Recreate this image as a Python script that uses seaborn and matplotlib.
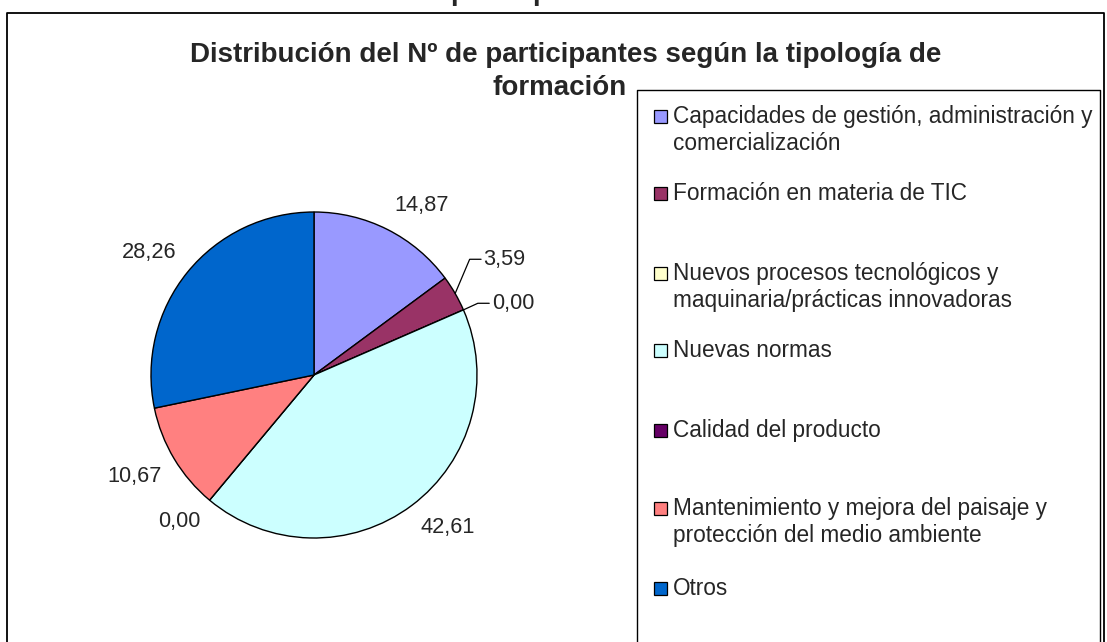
import matplotlib
matplotlib.use("Agg")
import matplotlib.pyplot as plt
import seaborn as sns
import numpy as np
from matplotlib.patches import Rectangle

# datos del gráfico
categories = [
    "Capacidades de gestión, administración y\ncomercialización",
    "Formación en materia de TIC",
    "Nuevos procesos tecnológicos y\nmaquinaria/prácticas innovadoras",
    "Nuevas normas",
    "Calidad del producto",
    "Mantenimiento y mejora del paisaje y\nprotección del medio ambiente",
    "Otros",
]
values = [14.87, 3.59, 0.00, 42.61, 0.00, 10.67, 28.26]
colors = ["#9999FF", "#993366", "#FFFFCC", "#CCFFFF", "#660066", "#FF8080", "#0066CC"]
title_lines = ["Distribución del Nº de participantes según la tipología de", "formación"]
top_text = "participantes"

sns.set_theme(style="white")
plt.rcParams["font.family"] = ["Liberation Sans", "DejaVu Sans"]

W, H = 1107, 642
fig = plt.figure(figsize=(W / 100, H / 100), dpi=100)
fig.patch.set_facecolor("white")

# capa de fondo en pixeles (y hacia abajo)
bg = fig.add_axes([0, 0, 1, 1])
bg.set_xlim(0, W)
bg.set_ylim(H, 0)
bg.axis("off")

# marco exterior y caja de leyenda
bg.plot([7, 7, 1104, 1104], [H + 5, 13, 13, H + 5], color="black", lw=1.3, clip_on=False)
bg.plot([637, 637, 1100, 1100], [H + 5, 90, 90, H + 5], color="black", lw=1.0, clip_on=False)

# texto cortado arriba (titulo de la pagina, fuera del recorte)
bg.text(450, 0, top_text, fontsize=20, fontweight="bold", ha="left", va="baseline")

# titulo
bg.text(566, 62, title_lines[0], fontsize=20, fontweight="bold", ha="center", va="baseline")
bg.text(560, 95, title_lines[1], fontsize=20, fontweight="bold", ha="center", va="baseline")

# leyenda manual (posiciones tipo Excel)
legend_base = [123, 200, 280, 357, 437, 515, 595]
for lab, col, yb in zip(categories, colors, legend_base):
    bg.add_patch(Rectangle((654, yb - 13), 13, 13, facecolor=col, edgecolor="black", lw=0.9))
    for k, line in enumerate(lab.split("\n")):
        bg.text(673, yb + 27 * k, line, fontsize=16.3, ha="left", va="baseline")

# tarta
cx, cy, r, lim = 314, 375, 163, 1.6
half = lim * r
ax = fig.add_axes([(cx - half) / W, (H - cy - half) / H, 2 * half / W, 2 * half / H])
wedges, _ = ax.pie(values, colors=colors, startangle=90, counterclock=False,
                   wedgeprops=dict(edgecolor="black", linewidth=1.0))
ax.set_xlim(-lim, lim)
ax.set_ylim(-lim, lim)
ax.set_aspect("equal")
ax.axis("off")

# etiquetas con linea guia para las porciones pequeñas
leader_text = {1: (1.04, 0.71), 2: (1.09, 0.44)}

for i, (w, v) in enumerate(zip(wedges, values)):
    mid = np.deg2rad((w.theta1 + w.theta2) / 2)
    txt = f"{v:.2f}".replace(".", ",")
    c, s = np.cos(mid), np.sin(mid)
    if i in leader_text:
        tx, ty = leader_text[i]
        ax.plot([c, tx - 0.085, tx - 0.015], [s, ty, ty], color="black", lw=0.9)
        ax.text(tx, ty, txt, fontsize=15.7, ha="left", va="center")
    else:
        ax.text(1.09 * c, 1.09 * s, txt, fontsize=15.7,
                ha="left" if c > 0 else "right",
                va="bottom" if s > 0 else "top")

fig.savefig("out.png", dpi=100, facecolor="white")
